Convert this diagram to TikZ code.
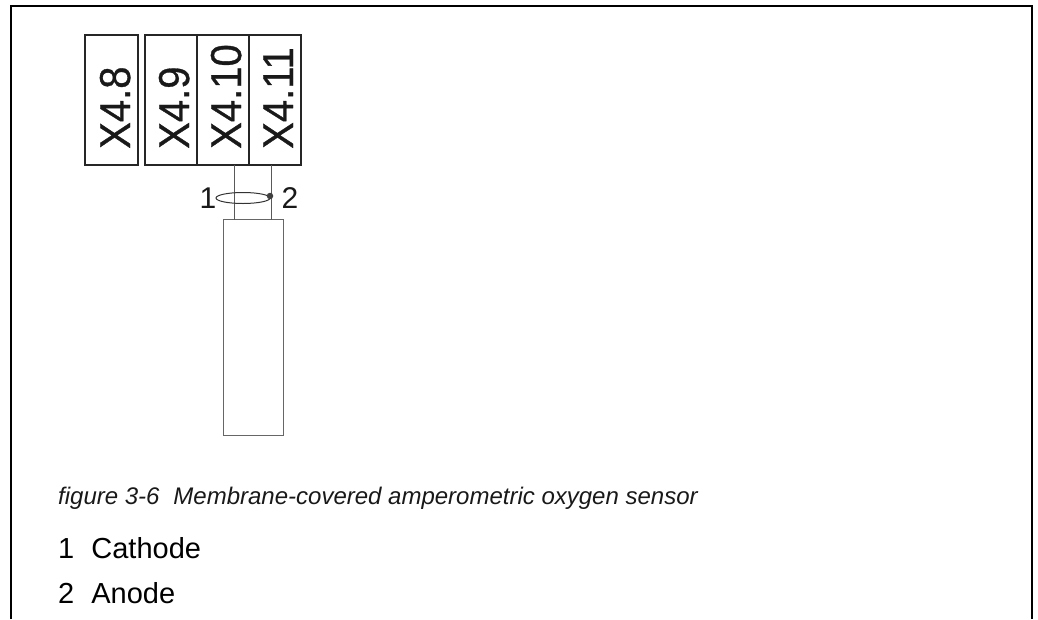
\documentclass[tikz,border=0pt]{standalone}
\usepackage{fontspec}
\usetikzlibrary{shapes.geometric}
\setmainfont{Liberation Sans}
\newfontfamily\termfont[FakeBold=0.8]{Liberation Sans}
\begin{document}
\begin{tikzpicture}[x=1pt,y=-1pt,
  termbox/.style={draw=black!85,line width=1.8pt,rectangle,inner sep=0pt,outer sep=0pt,anchor=north west,minimum height=130pt},
  termtext/.style={rotate=90,anchor=base west,inner sep=0pt,text=black!90,font=\termfont\fontsize{40}{40}\selectfont},
  wire/.style={draw=black!65,line width=1.1pt},
  numtext/.style={anchor=base,inner sep=0pt,text=black!90,font=\fontsize{30}{30}\selectfont},
  captext/.style={anchor=base west,inner sep=0pt,text=black!90,font=\fontsize{24}{24}\selectfont\itshape},
  listtext/.style={anchor=base west,inner sep=0pt,text=black,font=\fontsize{29}{29}\selectfont}]
\useasboundingbox (0,0) rectangle (1038,619);
\draw[line width=2pt,black] (11,619) -- (11,6) -- (1032,6) -- (1032,619);
\node[termbox,minimum width=53pt] (b8) at (85,35) {};
\node[termbox,minimum width=52pt] (b9) at (145,35) {};
\node[termbox,minimum width=52pt] (b10) at (197,35) {};
\node[termbox,minimum width=52pt] (b11) at (249,35) {};
\node[termtext] (t8) at (130,149) {\scalebox{1}[1.08]{X4.8}};
\node[termtext] (t9) at (189,149) {\scalebox{1}[1.08]{X4.9}};
\node[termtext] (t10) at (241,149) {\scalebox{1}[1.08]{X4.10}};
\node[termtext] (t11) at (293,149) {\scalebox{1}[1.08]{X4.11}};
\node[draw=black!60,line width=0.9pt,rectangle,inner sep=0pt,outer sep=0pt,anchor=north west,minimum width=60pt,minimum height=216pt] (sensor) at (223.5,219.5) {};
\coordinate (w1t) at (234.5,165);
\coordinate (w2t) at (271.5,165);
\draw[wire] (w1t) -- (w1t |- sensor.north);
\draw[wire] (w2t) -- (w2t |- sensor.north);
\node[draw=black!80,line width=1pt,ellipse,inner sep=0pt,minimum width=54pt,minimum height=11pt] (shield) at (243,198) {};
\node[circle,fill=black!75,inner sep=0pt,minimum size=6.5pt] (dot) at (270,196) {};
\node[numtext] (n1) at (208,208) {1};
\node[numtext] (n2) at (290,208) {2};
\node[captext] (cap) at (58,504) {figure 3-6\hspace{0.58em}Membrane-covered amperometric oxygen sensor};
\node[listtext] (l1) at (58,558) {1\hspace{0.59em}Cathode};
\node[listtext] (l2) at (58,603) {2\hspace{0.59em}Anode};
\end{tikzpicture}
\end{document}
